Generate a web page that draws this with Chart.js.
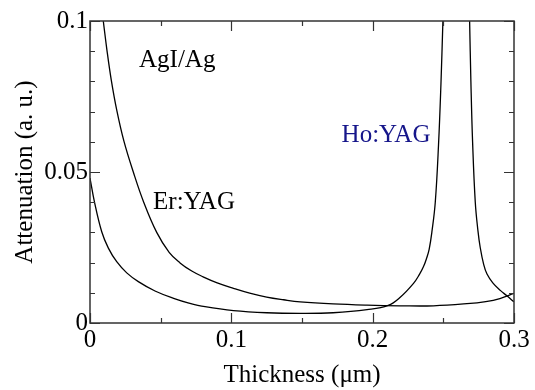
<!DOCTYPE html>
<html>
<head>
<meta charset="utf-8">
<script src="https://cdn.jsdelivr.net/npm/chart.js@4"></script>
<style>
  html, body { margin: 0; padding: 0; background: #fff; }
  #wrap { width: 535px; height: 390px; position: relative; }
</style>
</head>
<body>
<div id="wrap"><canvas id="chart"></canvas></div>
<script>
// Er:YAG curve (upper, decreasing then slowly rising)
const erX = [0.0094, 0.0120, 0.0150, 0.0190, 0.0240, 0.0307, 0.0380, 0.0472, 0.0560, 0.0637,
  0.0720, 0.0800, 0.0900, 0.1015, 0.1130, 0.1250, 0.1370, 0.1487, 0.1720, 0.1960,
  0.2195, 0.2430, 0.2667, 0.2800, 0.2900, 0.3000]
const erY = [0.1000, 0.0903, 0.0806, 0.0703, 0.0602, 0.0499, 0.0400, 0.0300, 0.0234, 0.0199,
  0.0172, 0.0153, 0.0133, 0.0115, 0.0099, 0.0086, 0.0077, 0.0070, 0.0063, 0.0059,
  0.0057, 0.0057, 0.0064, 0.0071, 0.0081, 0.0098]

// Ho:YAG curve (lower, with resonance peak going off scale)
const hoX = [0, 0.0031, 0.0083, 0.0130, 0.0189, 0.0260, 0.0342, 0.0460, 0.0602, 0.0700,
  0.0814, 0.1015, 0.1250, 0.1487, 0.1720, 0.1960, 0.2110, 0.2195, 0.2289, 0.2330,
  0.2359, 0.2380, 0.2400, 0.2420, 0.2443, 0.2466, 0.2483, 0.2497,
  0.2590,
  0.2686, 0.2695, 0.2707, 0.2726, 0.2745, 0.2761, 0.2785, 0.2809, 0.2850, 0.2903,
  0.2950, 0.3000]
const hoY = [0.0480, 0.0402, 0.0302, 0.0248, 0.0203, 0.0166, 0.0137, 0.0106, 0.0080, 0.0066,
  0.0054, 0.0041, 0.0034, 0.0032, 0.0034, 0.0044, 0.0058, 0.0085, 0.0131, 0.0160,
  0.0186, 0.0212, 0.0245, 0.0305, 0.0400, 0.0590, 0.0790, 0.1000,
  null,
  0.1000, 0.0800, 0.0600, 0.0400, 0.0305, 0.0250, 0.0195, 0.0162, 0.0133, 0.0108,
  0.0090, 0.0070]

const xMajor = [0, 0.1, 0.2, 0.3]
const xMinor = [0.05, 0.15, 0.25]
const yMajor = [0, 0.05, 0.1]
const yMinor = [0.01, 0.02, 0.03, 0.04, 0.06, 0.07, 0.08, 0.09]

const notes = [
  { text: 'AgI/Ag', x: 0.0347, y: 0.0848, color: '#000' },
  { text: 'Er:YAG', x: 0.0446, y: 0.0377, color: '#000' },
  { text: 'Ho:YAG', x: 0.178, y: 0.0600, color: '#16168a' }
]

const FONT = '"Liberation Serif", "Times New Roman", serif'

function pairs(xs, ys) {
  return xs.map((x, i) => ({ x: x, y: ys[i] }))
}

// frame + inward ticks on all four sides, and the text notes
const frameTicks = {
  id: 'frameTicks',
  afterDatasetsDraw(chart) {
    const { ctx, chartArea: a, scales: { x, y } } = chart
    ctx.save()
    ctx.strokeStyle = '#333'
    ctx.lineWidth = 1.5
    ctx.strokeRect(a.left, a.top, a.right - a.left, a.bottom - a.top)

    ctx.beginPath()
    const tx = (v, len) => {
      const p = Math.round(x.getPixelForValue(v)) + 0.5
      ctx.moveTo(p, a.bottom); ctx.lineTo(p, a.bottom - len)
      ctx.moveTo(p, a.top); ctx.lineTo(p, a.top + len)
    }
    const ty = (v, len) => {
      const p = Math.round(y.getPixelForValue(v)) + 0.5
      ctx.moveTo(a.left, p); ctx.lineTo(a.left + len, p)
      ctx.moveTo(a.right, p); ctx.lineTo(a.right - len, p)
    }
    xMajor.forEach(v => tx(v, 10))
    xMinor.forEach(v => tx(v, 5))
    yMajor.forEach(v => ty(v, 10))
    yMinor.forEach(v => ty(v, 5))
    ctx.lineWidth = 1.2
    ctx.stroke()

    ctx.font = '25px ' + FONT
    ctx.textBaseline = 'alphabetic'
    ctx.textAlign = 'left'
    notes.forEach(n => {
      ctx.fillStyle = n.color
      ctx.fillText(n.text, x.getPixelForValue(n.x), y.getPixelForValue(n.y))
    })
    ctx.restore()
  }
}

const fmt = v => String(+Number(v).toFixed(2))

new Chart(document.getElementById('chart'), {
  type: 'scatter',
  data: {
    datasets: [
      { label: 'Er:YAG', data: pairs(erX, erY) },
      { label: 'Ho:YAG', data: pairs(hoX, hoY) }
    ]
  },
  options: {
    responsive: true,
    maintainAspectRatio: false,
    animation: false,
    showLine: true,
    layout: { padding: { left: 0, top: 21, right: 21, bottom: 0 } },
    elements: {
      point: { radius: 0, hoverRadius: 0 },
      line: { borderColor: '#000', borderWidth: 1.3, tension: 0.4, fill: false }
    },
    datasets: { scatter: { borderColor: '#000', spanGaps: false } },
    plugins: {
      legend: { display: false },
      tooltip: { enabled: false }
    },
    scales: {
      x: {
        type: 'linear',
        min: 0,
        max: 0.3,
        grid: { display: false, drawTicks: false },
        border: { display: false },
        ticks: {
          stepSize: 0.1,
          padding: 2,
          color: '#000',
          font: { family: FONT, size: 25 },
          maxRotation: 0,
          callback: fmt
        },
        title: {
          display: true,
          text: 'Thickness (\u03bcm)',
          color: '#000',
          font: { family: FONT, size: 25 },
          padding: { top: 0, bottom: 0 }
        },
        afterFit(scale) { scale.height = 67 }
      },
      y: {
        type: 'linear',
        min: 0,
        max: 0.1,
        grid: { display: false, drawTicks: false },
        border: { display: false },
        ticks: {
          stepSize: 0.05,
          padding: 2,
          color: '#000',
          font: { family: FONT, size: 25 },
          callback: fmt
        },
        title: {
          display: true,
          text: 'Attenuation (a. u.)',
          color: '#000',
          font: { family: FONT, size: 25 },
          padding: { top: 10, bottom: 0 }
        },
        afterFit(scale) { scale.width = 90 }
      }
    }
  },
  plugins: [frameTicks]
})
</script>
</body>
</html>
